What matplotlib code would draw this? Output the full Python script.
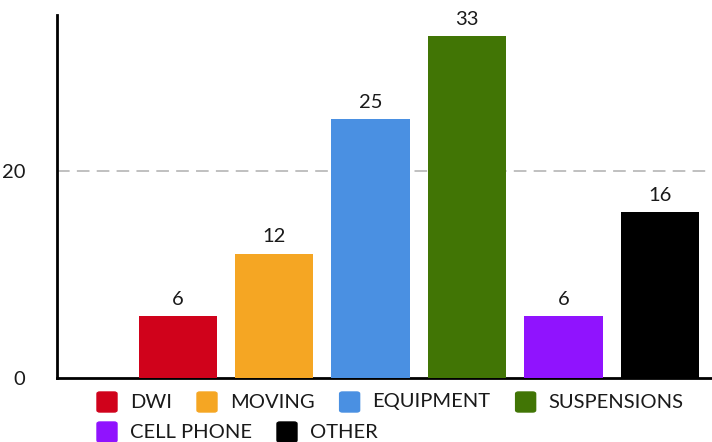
import matplotlib.pyplot as plt
from matplotlib.patches import FancyBboxPatch

plt.rcParams['font.family'] = ['Lato', 'DejaVu Sans']

categories = ['DWI', 'MOVING', 'EQUIPMENT', 'SUSPENSIONS', 'CELL PHONE', 'OTHER']
values = [6, 12, 25, 33, 6, 16]
colors = ['#d0021b', '#f5a623', '#4a90e2', '#417505', '#9013fe', '#000000']

W, H = 712, 442
fig = plt.figure(figsize=(W / 100, H / 100), dpi=100)
ax = fig.add_axes([57 / W, (H - 378) / H, (W - 57) / W, 363 / H])

x = list(range(len(categories)))
ax.bar(x, values, width=0.81, color=colors, zorder=3)
for xi, v in zip(x, values):
    ax.annotate(str(v), (xi, v), xytext=(0, 6), textcoords='offset points',
                ha='center', va='bottom', fontsize=14.5, color='#1a1a1a')

ax.set_xlim(-1.25, 5.54)
ax.set_ylim(0, 35.07)
ax.set_yticks([0, 20])
ax.set_xticks([])
ax.tick_params(axis='y', length=0, pad=23, labelsize=14.5, labelcolor='#1a1a1a')
ax.axhline(20, color='#bbbbbb', linestyle=(0, (7, 4)), linewidth=1.3, zorder=1)
for s in ['top', 'right']:
    ax.spines[s].set_visible(False)
ax.spines['left'].set_linewidth(2)
ax.spines['bottom'].set_linewidth(2)

# legend laid out like a flow of items
fig.canvas.draw()
r = fig.canvas.get_renderer()
rows = [(0, 4, 402), (4, 6, 432)]
for start, end, yc in rows:
    xp = 97
    for i in range(start, end):
        sq = FancyBboxPatch((xp / W, (H - yc - 10) / H), 20 / W, 20 / H,
                            boxstyle='round,pad=0,rounding_size=0.004',
                            transform=fig.transFigure, color=colors[i])
        fig.patches.append(sq)
        t = fig.text((xp + 33) / W, (H - yc) / H, categories[i], fontsize=14.5,
                     va='center', ha='left', color='#1a1a1a')
        w = t.get_window_extent(r).width
        xp = xp + 33 + w + 25

fig.savefig('out.png', dpi=100)
